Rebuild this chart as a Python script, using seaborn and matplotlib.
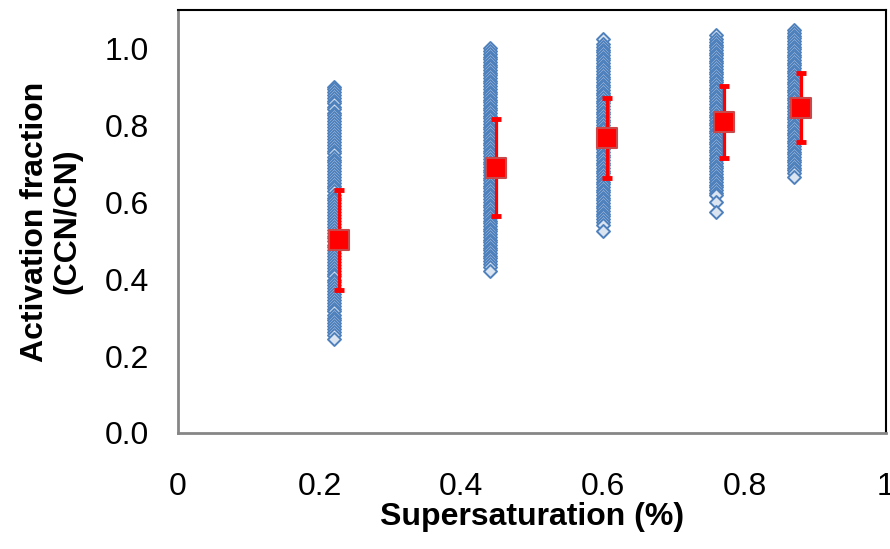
"""
Activation fraction (CCN/CN) against supersaturation.
"""
import matplotlib
matplotlib.use("Agg")
import matplotlib.pyplot as plt
import numpy as np
import pandas as pd
import seaborn as sns

# supersaturation levels of the individual measurements
ss_points = [0.22, 0.44, 0.60, 0.76, 0.87]
# individual activation fractions, one list per supersaturation
af_022 = [0.900, 0.895, 0.887, 0.880, 0.871, 0.864, 0.857, 0.849, 0.842, 0.833,
          0.826, 0.818, 0.811, 0.803, 0.796, 0.788, 0.781, 0.772, 0.765, 0.757,
          0.750, 0.741, 0.734, 0.727, 0.719, 0.711, 0.704, 0.696, 0.689, 0.681,
          0.673, 0.666, 0.658, 0.650, 0.643, 0.636, 0.628, 0.620, 0.612, 0.605,
          0.597, 0.590, 0.582, 0.574, 0.567, 0.559, 0.551, 0.544, 0.536, 0.529,
          0.521, 0.513, 0.506, 0.498, 0.490, 0.483, 0.475, 0.468, 0.460, 0.452,
          0.445, 0.437, 0.430, 0.422, 0.414, 0.407, 0.399, 0.392, 0.384, 0.376,
          0.369, 0.361, 0.354, 0.346, 0.338, 0.331, 0.323, 0.316, 0.308, 0.300,
          0.293, 0.285, 0.278, 0.270, 0.262, 0.255, 0.245]
af_044 = [1.000, 0.993, 0.986, 0.979, 0.972, 0.965, 0.958, 0.951, 0.944, 0.937,
          0.930, 0.923, 0.916, 0.909, 0.902, 0.895, 0.888, 0.881, 0.874, 0.867,
          0.860, 0.853, 0.846, 0.839, 0.832, 0.825, 0.818, 0.811, 0.804, 0.797,
          0.790, 0.783, 0.776, 0.769, 0.762, 0.755, 0.748, 0.741, 0.734, 0.727,
          0.720, 0.713, 0.706, 0.699, 0.692, 0.685, 0.678, 0.671, 0.664, 0.657,
          0.650, 0.643, 0.636, 0.629, 0.622, 0.615, 0.608, 0.601, 0.594, 0.587,
          0.580, 0.573, 0.566, 0.559, 0.552, 0.545, 0.538, 0.531, 0.524, 0.517,
          0.510, 0.503, 0.496, 0.489, 0.482, 0.475, 0.468, 0.461, 0.454, 0.447,
          0.440, 0.432, 0.420]
af_060 = [1.025, 1.012, 1.004, 0.997, 0.990, 0.983, 0.976, 0.969, 0.962, 0.955,
          0.948, 0.941, 0.934, 0.927, 0.920, 0.913, 0.906, 0.899, 0.892, 0.885,
          0.878, 0.871, 0.864, 0.857, 0.850, 0.843, 0.836, 0.829, 0.822, 0.815,
          0.808, 0.801, 0.794, 0.787, 0.780, 0.773, 0.766, 0.759, 0.752, 0.745,
          0.738, 0.731, 0.724, 0.717, 0.710, 0.703, 0.696, 0.689, 0.682, 0.675,
          0.668, 0.661, 0.654, 0.647, 0.640, 0.633, 0.626, 0.619, 0.612, 0.605,
          0.598, 0.591, 0.584, 0.577, 0.570, 0.563, 0.556, 0.549, 0.540, 0.525]
af_076 = [1.035, 1.025, 1.017, 1.010, 1.003, 0.996, 0.989, 0.982, 0.975, 0.968,
          0.961, 0.954, 0.947, 0.940, 0.933, 0.926, 0.919, 0.912, 0.905, 0.898,
          0.891, 0.884, 0.877, 0.870, 0.863, 0.856, 0.849, 0.842, 0.835, 0.828,
          0.821, 0.814, 0.807, 0.800, 0.793, 0.786, 0.779, 0.772, 0.765, 0.758,
          0.751, 0.744, 0.737, 0.730, 0.723, 0.716, 0.709, 0.702, 0.695, 0.688,
          0.681, 0.674, 0.667, 0.660, 0.653, 0.646, 0.639, 0.632, 0.625, 0.618,
          0.600, 0.575]
af_087 = [1.048, 1.040, 1.033, 1.026, 1.019, 1.012, 1.005, 0.998, 0.991, 0.984,
          0.977, 0.970, 0.963, 0.956, 0.949, 0.942, 0.935, 0.928, 0.921, 0.914,
          0.907, 0.900, 0.893, 0.886, 0.879, 0.872, 0.865, 0.858, 0.851, 0.844,
          0.837, 0.830, 0.823, 0.816, 0.809, 0.802, 0.795, 0.788, 0.781, 0.774,
          0.767, 0.760, 0.753, 0.746, 0.739, 0.732, 0.725, 0.718, 0.711, 0.704,
          0.697, 0.690, 0.683, 0.676, 0.667]

# averages with standard deviation
ss_mean = [0.228, 0.449, 0.606, 0.771, 0.880]
af_mean = [0.501, 0.690, 0.767, 0.809, 0.846]
af_std = [0.130, 0.126, 0.104, 0.093, 0.090]

x_ticks = [0, 0.2, 0.4, 0.6, 0.8, 1.0]
x_ticklabels = ["0", "0.2", "0.4", "0.6", "0.8", "1"]
y_ticks = [0.0, 0.2, 0.4, 0.6, 0.8, 1.0]
y_ticklabels = ["0.0", "0.2", "0.4", "0.6", "0.8", "1.0"]

sns.set_style("white")
plt.rcParams["font.family"] = ["Liberation Sans", "DejaVu Sans"]

# long table for the individual points
rows = []
for ss, vals in zip(ss_points, [af_022, af_044, af_060, af_076, af_087]):
    for v in vals:
        rows.append({"ss": ss, "af": v})
points = pd.DataFrame(rows)
means = pd.DataFrame({"ss": ss_mean, "af": af_mean, "sd": af_std})

fig = plt.figure(figsize=(8.9, 5.49), dpi=100)
ax = fig.add_axes([0.2, 0.2113, 0.7955, 0.7705])

sns.scatterplot(data=points, x="ss", y="af", marker="D", s=44,
                color="#dbe5f1", edgecolor="#4f81bd", linewidth=1.4, ax=ax, zorder=2)
ax.errorbar(means["ss"], means["af"], yerr=means["sd"], fmt="none",
            ecolor="#ff0000", elinewidth=2.3, capsize=3.5, capthick=3.5, zorder=3)
sns.scatterplot(data=means, x="ss", y="af", marker="s", s=200,
                color="#ff0000", edgecolor="#c9484a", linewidth=1.5, ax=ax, zorder=4)

ax.set_xlim(0, 1)
ax.set_ylim(0, 1.1)
ax.set_xticks(x_ticks)
ax.set_xticklabels(x_ticklabels)
ax.set_yticks(y_ticks)
ax.set_yticklabels(y_ticklabels)
ax.tick_params(axis="both", labelsize=23, colors="#868686", labelcolor="black", width=1.5)
ax.tick_params(axis="x", direction="out", length=7, pad=21)
ax.tick_params(axis="y", direction="out", length=8, pad=13)

for side in ["left", "bottom"]:
    ax.spines[side].set_color("#868686")
    ax.spines[side].set_linewidth(2)
for side in ["top", "right"]:
    ax.spines[side].set_color("black")
    ax.spines[side].set_linewidth(1.5)

ax.set_xlabel("Supersaturation (%)", fontsize=23, fontweight="bold", labelpad=0,
              color="black")
ax.set_ylabel("Activation fraction\n(CCN/CN)", fontsize=23, fontweight="bold",
              labelpad=16, linespacing=1.1, color="black")

fig.savefig("out.png", dpi=100)
